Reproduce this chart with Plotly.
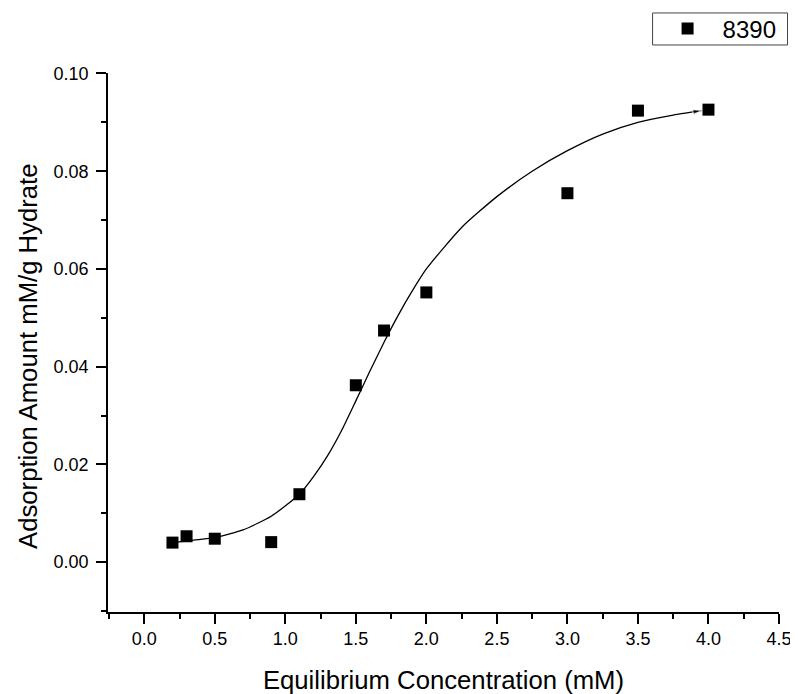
import plotly.graph_objects as go

# Measured data (series "8390")
conc = [0.2, 0.3, 0.5, 0.9, 1.1, 1.5, 1.7, 2.0, 3.0, 3.5, 4.0]
amount = [0.0040, 0.0053, 0.0048, 0.0041, 0.0139, 0.0362, 0.0474, 0.0552, 0.0755, 0.0924, 0.0926]

# Fitted curve
fit_x = [0.2, 0.35, 0.5, 0.7, 0.9, 1.1, 1.2, 1.3, 1.4, 1.5, 1.6, 1.7, 1.8, 1.9, 2.0,
         2.25, 2.5, 2.75, 3.0, 3.25, 3.5, 3.75, 3.95]
fit_y = [0.0040, 0.0045, 0.0050, 0.0066, 0.0094, 0.0139, 0.0175, 0.0218, 0.0270, 0.0330,
         0.0391, 0.0450, 0.0505, 0.0555, 0.0600, 0.0685, 0.0748, 0.0800, 0.0842, 0.0876,
         0.0900, 0.0915, 0.0924]

series_name = "8390"
x_title = "Equilibrium Concentration (mM)"
y_title = "Adsorption Amount mM/g Hydrate"

FONT = "Arial, 'Liberation Sans', sans-serif"

fig = go.Figure()

end_sizes = [0] * (len(fit_x) - 1) + [9]
fig.add_trace(go.Scatter(
    x=fit_x, y=fit_y, mode="lines+markers",
    line=dict(color="black", width=1.3, shape="spline", smoothing=0.6),
    marker=dict(symbol="arrow", angleref="previous", size=end_sizes, color="black"),
    showlegend=False, hoverinfo="skip",
))

fig.add_trace(go.Scatter(
    x=conc, y=amount, mode="markers", name=series_name,
    marker=dict(symbol="square", size=12, color="black"),
))

axis_common = dict(
    showline=True, linecolor="black", linewidth=1.6,
    ticks="outside", ticklen=10, tickwidth=1.6, tickcolor="black",
    showgrid=False, zeroline=False, mirror=False,
    tickfont=dict(family=FONT, size=18, color="black"),
)

fig.update_xaxes(
    range=[-0.257, 4.5], dtick=0.5, tick0=0, tickformat=".1f",
    minor=dict(dtick=0.25, tick0=0, ticklen=5, tickwidth=1.6, tickcolor="black", ticks="outside", showgrid=False),
    title=dict(text=x_title, font=dict(family=FONT, size=25.7, color="black"), standoff=23),
    ticklabelstandoff=0,
    **axis_common,
)
fig.update_yaxes(
    range=[-0.0102, 0.1001], dtick=0.02, tick0=0, tickformat=".2f",
    minor=dict(dtick=0.01, tick0=0, ticklen=5, tickwidth=1.6, tickcolor="black", ticks="outside", showgrid=False),
    ticklabelstandoff=4,
    **axis_common,
)

# y-axis title as a rotated annotation (its centre sits slightly below the axis centre)
fig.add_annotation(
    text=y_title, xref="paper", yref="paper", x=-0.1195, y=0.4747,
    xanchor="center", yanchor="middle", textangle=-90, showarrow=False,
    font=dict(family=FONT, size=25.7, color="black"),
)

# legend frame
fig.add_shape(
    type="rect", xref="paper", yref="paper",
    x0=0.8116, x1=1.0127, y0=1.052, y1=1.1114,
    line=dict(color="#444444", width=1), fillcolor="rgba(0,0,0,0)", layer="above",
)

fig.update_layout(
    width=790, height=686,
    margin=dict(l=100, r=18.5, t=65, b=82.3, autoexpand=False),
    paper_bgcolor="white", plot_bgcolor="white",
    font=dict(family=FONT, color="black"),
    legend=dict(
        x=0.8116, y=1.0817, xanchor="left", yanchor="middle",
        borderwidth=0, bgcolor="rgba(0,0,0,0)",
        font=dict(family=FONT, size=24, color="black"),
        itemwidth=60,
    ),
)

fig.write_html("out.html")
